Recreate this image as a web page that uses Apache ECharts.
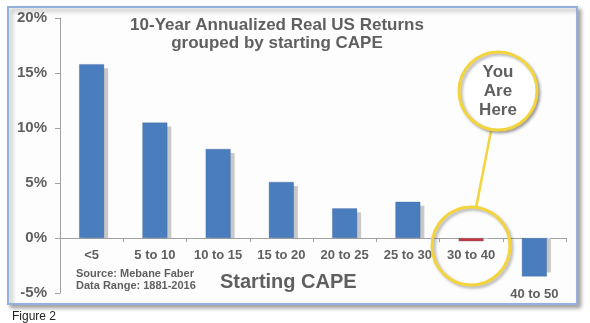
<!DOCTYPE html>
<html>
<head>
<meta charset="utf-8">
<script src="https://cdn.jsdelivr.net/npm/echarts@6/dist/echarts.min.js"></script>
<style>
  html, body { margin: 0; padding: 0; background: #ffffff; }
  #chart { width: 590px; height: 323px; }
</style>
</head>
<body>
<div id="chart"></div>
<script>
// Starting CAPE buckets and the 10-year annualized real return for each (percent)
const capeBuckets = ['<5', '5 to 10', '10 to 15', '15 to 20', '20 to 25', '25 to 30', '30 to 40', '40 to 50'];
const realReturns = [15.8, 10.5, 8.1, 5.1, 2.7, 3.3, -0.3, -3.5];
const currentBucket = '30 to 40';
const yTicks = [-5, 0, 5, 10, 15, 20];

const textGray = '#5f5f5f';
const barBlue = '#4a7dbd';
const barRed = '#c9393c';
const ringYellow = '#f3d43c';
const font = 'Liberation Sans, Arial, sans-serif';
const BAR_W = 25;
const SHADOW_OFF = 4;

const chart = echarts.init(document.getElementById('chart'));

const barData = realReturns.map((v, i) => ({
  value: v,
  itemStyle: { color: capeBuckets[i] === currentBucket ? barRed : barBlue }
}));

// soft gray offset block behind each bar, clipped at the zero line
function renderShadow(params, api) {
  const idx = api.value(0);
  const v = api.value(1);
  const base = api.coord([idx, 0]);
  const end = api.coord([idx, v]);
  const x = base[0] - BAR_W / 2 + SHADOW_OFF;
  let y0, y1;
  if (v >= 0) { y0 = end[1] + SHADOW_OFF; y1 = base[1]; }
  else { y0 = base[1]; y1 = end[1] - SHADOW_OFF; }
  if (y1 - y0 < 1) { y1 = y0 + 1; }
  return {
    type: 'rect',
    shape: { x: x, y: y0, width: BAR_W, height: y1 - y0 },
    style: { fill: '#c9c9c9' }
  };
}

// bucket names sit just under the zero line, or under a bar that reaches well below it
function renderBucketLabel(params, api) {
  const idx = api.value(0);
  const v = api.value(1);
  const base = api.coord([idx, 0]);
  const end = api.coord([idx, v]);
  const anchorY = (end[1] - base[1] > 10) ? end[1] : base[1];
  return {
    type: 'text',
    x: base[0],
    y: anchorY + 11,
    style: {
      text: capeBuckets[idx],
      fill: textGray,
      font: 'bold 13px ' + font,
      align: 'center',
      verticalAlign: 'top'
    }
  };
}

chart.setOption({
  animation: false,
  backgroundColor: '#ffffff',
  grid: { left: 60, right: 24, top: 18, bottom: 30, outerBoundsMode: 'none', containLabel: false },
  xAxis: {
    type: 'category',
    data: capeBuckets,
    axisLine: { onZero: true, lineStyle: { color: '#a0a0a0', width: 1 } },
    axisTick: { show: true, length: 4, lineStyle: { color: '#a0a0a0' } },
    axisLabel: { show: false }
  },
  yAxis: {
    type: 'value',
    min: yTicks[0],
    max: yTicks[yTicks.length - 1],
    interval: 5,
    splitLine: { show: false },
    axisLine: { show: true, lineStyle: { color: '#a0a0a0' } },
    axisTick: { show: true, length: 5, lineStyle: { color: '#a0a0a0' } },
    axisLabel: {
      margin: 13,
      color: textGray,
      fontFamily: font,
      fontWeight: 'bold',
      fontSize: 15,
      formatter: v => v + '%'
    }
  },
  series: [
    {
      type: 'custom',
      z: 1,
      renderItem: renderShadow,
      data: realReturns.map((v, i) => [i, v])
    },
    {
      type: 'bar',
      z: 2,
      data: barData,
      barWidth: BAR_W,
      itemStyle: { borderColor: 'rgba(40,80,140,0.5)', borderWidth: 0.5 }
    },
    {
      type: 'custom',
      z: 3,
      renderItem: renderBucketLabel,
      clip: false,
      data: realReturns.map((v, i) => [i, v])
    }
  ],
  graphic: [
    // framed panel with drop shadow
    {
      type: 'rect', z: -10, silent: true,
      shape: { x: 8, y: 7, width: 569, height: 297 },
      style: {
        fill: '#fdfdfd', stroke: '#93b1dd', lineWidth: 2,
        shadowColor: 'rgba(0,0,0,0.35)', shadowBlur: 4, shadowOffsetX: 3, shadowOffsetY: 3
      }
    },
    {
      type: 'text', z: 10, x: 277, y: 16,
      style: {
        text: '10-Year Annualized Real US Returns\ngrouped by starting CAPE',
        fill: textGray, font: 'bold 17px ' + font, align: 'center', lineHeight: 18
      }
    },
    {
      type: 'text', z: 10, x: 220, y: 272,
      style: { text: 'Starting CAPE', fill: textGray, font: 'bold 20px ' + font }
    },
    {
      type: 'text', z: 10, x: 76, y: 268,
      style: {
        text: 'Source: Mebane Faber\nData Range: 1881-2016',
        fill: textGray, font: 'bold 11px ' + font, lineHeight: 12
      }
    },
    // callout pointer between the two rings
    {
      type: 'line', z: 20, silent: true,
      shape: { x1: 491, y1: 131, x2: 476, y2: 208 },
      style: { stroke: ringYellow, lineWidth: 2.5 }
    },
    {
      type: 'circle', z: 21, silent: true,
      shape: { cx: 498, cy: 91, r: 39 },
      style: {
        fill: '#ffffff', stroke: ringYellow, lineWidth: 3,
        shadowColor: 'rgba(0,0,0,0.3)', shadowBlur: 3, shadowOffsetX: 2, shadowOffsetY: 2
      }
    },
    {
      type: 'text', z: 22, x: 498, y: 63,
      style: {
        text: 'You\nAre\nHere', fill: textGray,
        font: 'bold 17px ' + font, align: 'center', lineHeight: 19
      }
    },
    {
      type: 'circle', z: 21, silent: true,
      shape: { cx: 471, cy: 246, r: 39 },
      style: {
        fill: 'none', stroke: ringYellow, lineWidth: 3,
        shadowColor: 'rgba(0,0,0,0.3)', shadowBlur: 3, shadowOffsetX: 2, shadowOffsetY: 2
      }
    },
    {
      type: 'text', z: 10, x: 12, y: 311,
      style: { text: 'Figure 2', fill: '#222222', font: '12px ' + font }
    }
  ]
});
</script>
</body>
</html>
